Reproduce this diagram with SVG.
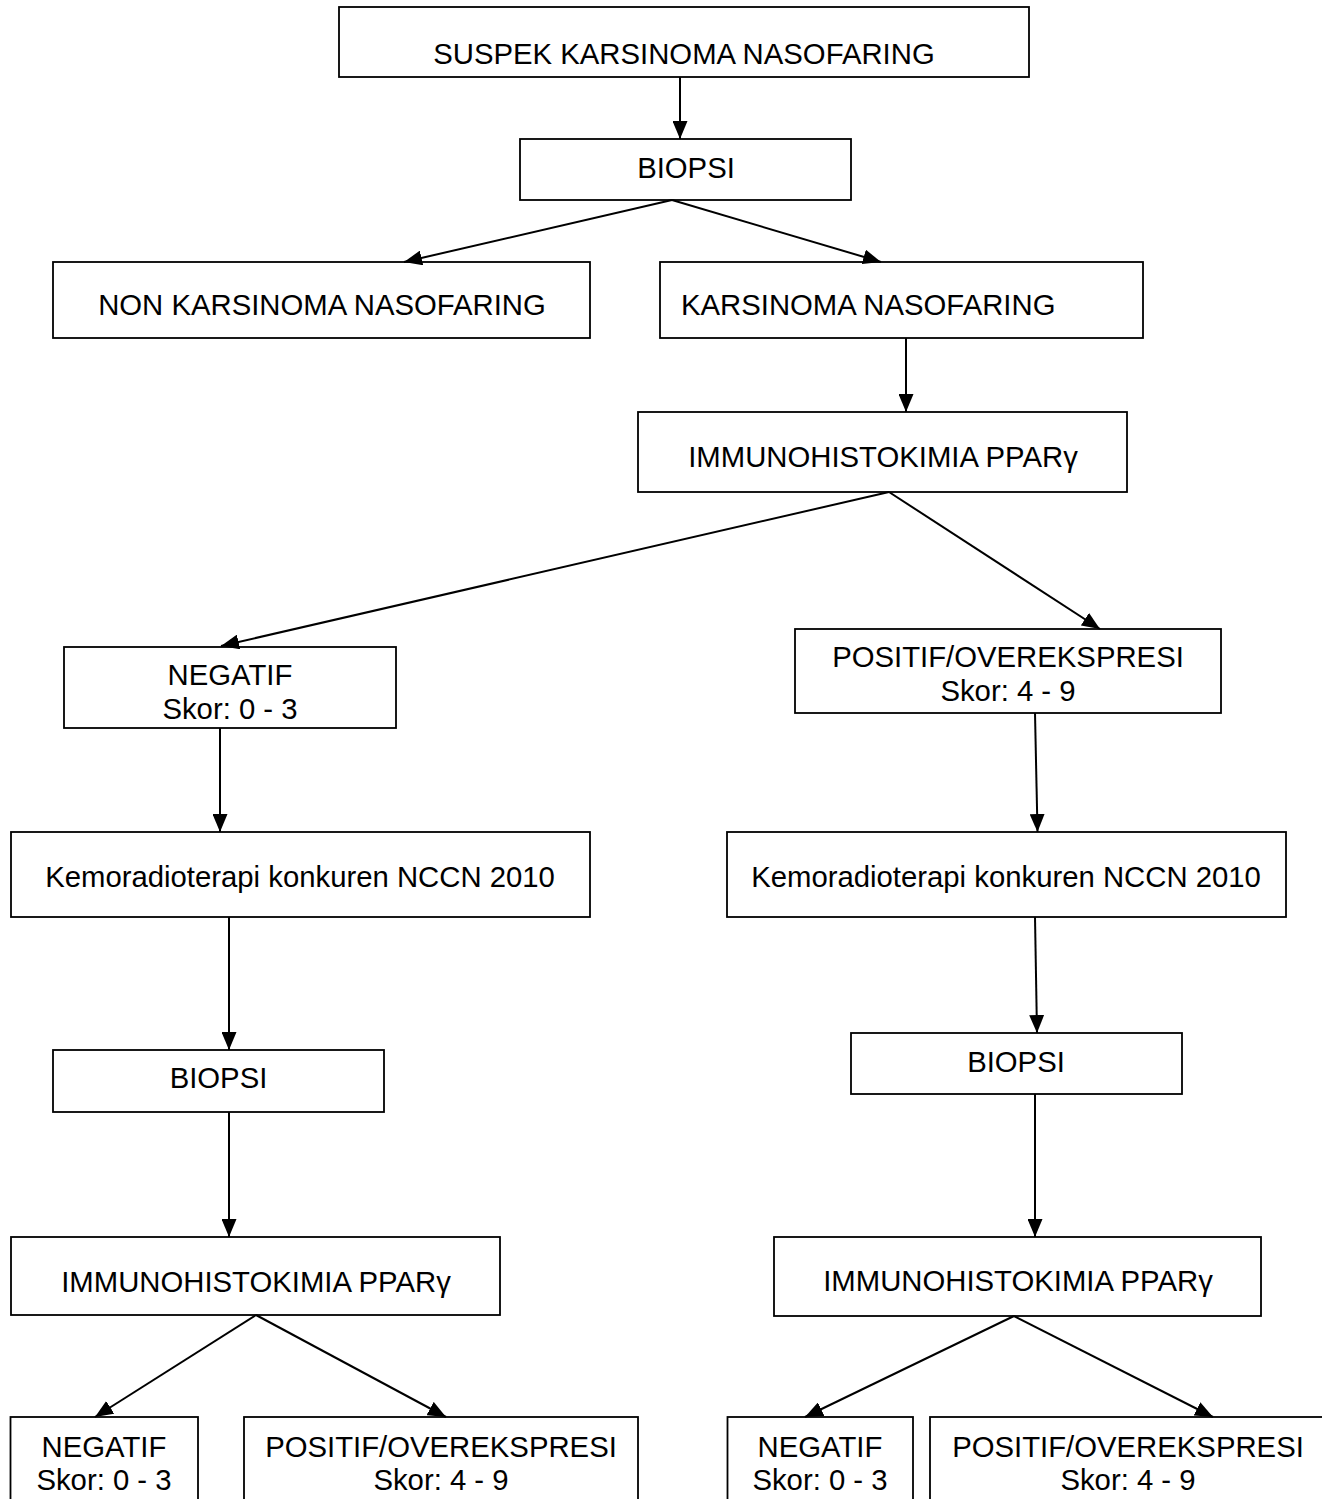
<svg xmlns="http://www.w3.org/2000/svg" width="1322" height="1499" viewBox="0 0 1322 1499">
<style>
.box{fill:#fff;stroke:#000;stroke-width:1.8}
.t{font-family:"Liberation Sans",Arial,sans-serif;font-size:29.3px;fill:#000;text-anchor:middle}
.ts{font-family:"Liberation Sans",Arial,sans-serif;font-size:29.3px;fill:#000}
.c{stroke:#000;stroke-width:2;fill:none;marker-end:url(#ah)}
</style>
<defs>
<marker id="ah" viewBox="0 0 18 15" refX="18" refY="7.5" markerWidth="18" markerHeight="15" orient="auto" markerUnits="userSpaceOnUse">
<path d="M0,0 L18,7.5 L0,15 z" fill="#000"/>
</marker>
</defs>
<rect width="1322" height="1499" fill="#fff"/>
<g id="n1"><rect class="box" x="339" y="7" width="690" height="70"/><text class="t" x="684" y="64">SUSPEK KARSINOMA NASOFARING</text></g>
<g id="n2"><rect class="box" x="520" y="139" width="331" height="61"/><text class="t" x="686" y="178">BIOPSI</text></g>
<g id="n3"><rect class="box" x="53" y="262" width="537" height="76"/><text class="t" x="322" y="315">NON KARSINOMA NASOFARING</text></g>
<g id="n4"><rect class="box" x="660" y="262" width="483" height="76"/><text class="ts" x="681" y="315">KARSINOMA NASOFARING</text></g>
<g id="n5"><rect class="box" x="638" y="412" width="489" height="80"/><text class="t" x="883" y="467">IMMUNOHISTOKIMIA PPARγ</text></g>
<g id="n6"><rect class="box" x="64" y="647" width="332" height="81"/><text class="t" x="230" y="685">NEGATIF</text><text class="t" x="230" y="719">Skor: 0 - 3</text></g>
<g id="n7"><rect class="box" x="795" y="629" width="426" height="84"/><text class="t" x="1008" y="667">POSITIF/OVEREKSPRESI</text><text class="t" x="1008" y="701">Skor: 4 - 9</text></g>
<g id="n8"><rect class="box" x="11" y="832" width="579" height="85"/><text class="t" x="300" y="887">Kemoradioterapi konkuren NCCN 2010</text></g>
<g id="n9"><rect class="box" x="727" y="832" width="559" height="85"/><text class="t" x="1006" y="887">Kemoradioterapi konkuren NCCN 2010</text></g>
<g id="n10"><rect class="box" x="53" y="1050" width="331" height="62"/><text class="t" x="218.5" y="1088">BIOPSI</text></g>
<g id="n11"><rect class="box" x="851" y="1033" width="331" height="61"/><text class="t" x="1016" y="1072">BIOPSI</text></g>
<g id="n12"><rect class="box" x="11" y="1237" width="489" height="78"/><text class="t" x="256" y="1292">IMMUNOHISTOKIMIA PPARγ</text></g>
<g id="n13"><rect class="box" x="774" y="1237" width="487" height="79"/><text class="t" x="1018" y="1291">IMMUNOHISTOKIMIA PPARγ</text></g>
<g id="n14"><rect class="box" x="10.5" y="1417" width="187.5" height="100"/><text class="t" x="104" y="1457">NEGATIF</text><text class="t" x="104" y="1490">Skor: 0 - 3</text></g>
<g id="n15"><rect class="box" x="244" y="1417" width="394" height="100"/><text class="t" x="441" y="1457">POSITIF/OVEREKSPRESI</text><text class="t" x="441" y="1490">Skor: 4 - 9</text></g>
<g id="n16"><rect class="box" x="727.5" y="1417" width="185.5" height="100"/><text class="t" x="820" y="1457">NEGATIF</text><text class="t" x="820" y="1490">Skor: 0 - 3</text></g>
<g id="n17"><rect class="box" x="930" y="1417" width="396" height="100"/><text class="t" x="1128" y="1457">POSITIF/OVEREKSPRESI</text><text class="t" x="1128" y="1490">Skor: 4 - 9</text></g>
<g id="connectors">
<line class="c" x1="680" y1="77" x2="680" y2="139"/>
<line class="c" x1="672" y1="200" x2="404" y2="262"/>
<line class="c" x1="672" y1="200" x2="881" y2="262"/>
<line class="c" x1="906" y1="338" x2="906" y2="412"/>
<line class="c" x1="889" y1="492" x2="221" y2="646"/>
<line class="c" x1="889" y1="492" x2="1100" y2="629"/>
<line class="c" x1="220" y1="728" x2="220" y2="832"/>
<line class="c" x1="1035" y1="713" x2="1037.5" y2="832"/>
<line class="c" x1="229" y1="917" x2="229" y2="1050"/>
<line class="c" x1="1035" y1="917" x2="1037" y2="1033"/>
<line class="c" x1="229" y1="1112" x2="229" y2="1237"/>
<line class="c" x1="1035" y1="1094" x2="1035" y2="1237"/>
<line class="c" x1="256" y1="1315" x2="95" y2="1417"/>
<line class="c" x1="256" y1="1315" x2="446" y2="1417"/>
<line class="c" x1="1014" y1="1316" x2="805" y2="1417"/>
<line class="c" x1="1014" y1="1316" x2="1213" y2="1417"/>
</g>
</svg>
